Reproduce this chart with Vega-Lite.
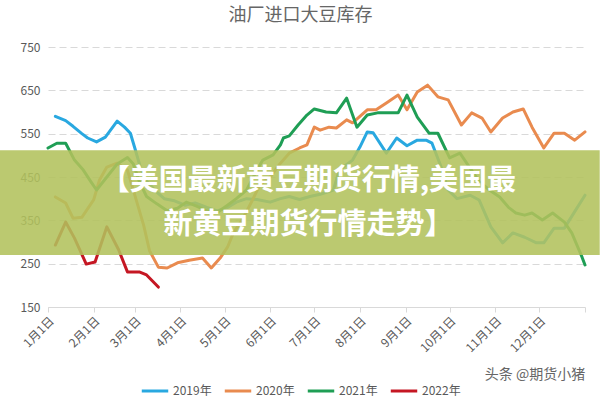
{
  "$schema": "https://vega.github.io/schema/vega-lite/v6.json",
  "autosize": "none",
  "width": 537,
  "height": 260,
  "padding": {"left": 48, "top": 47, "right": 15, "bottom": 93},
  "background": "white",
  "title": {
    "text": "油厂进口大豆库存",
    "font": "Noto Sans CJK SC",
    "fontSize": 18,
    "fontWeight": "normal",
    "color": "#666666",
    "anchor": "middle",
    "dx": -16,
    "offset": 16
  },
  "config": {
    "view": {"stroke": null},
    "font": "Noto Sans CJK SC"
  },
  "layer": [
    {
      "data": {
        "values": [
          {"year": "2019年", "day": 5, "value": 590},
          {"year": "2019年", "day": 12, "value": 580},
          {"year": "2019年", "day": 17, "value": 567},
          {"year": "2019年", "day": 23, "value": 550},
          {"year": "2019年", "day": 27, "value": 540},
          {"year": "2019年", "day": 33, "value": 531},
          {"year": "2019年", "day": 39, "value": 542},
          {"year": "2019年", "day": 47, "value": 579},
          {"year": "2019年", "day": 52, "value": 565},
          {"year": "2019年", "day": 56, "value": 551},
          {"year": "2019年", "day": 59, "value": 517},
          {"year": "2019年", "day": 63, "value": 470},
          {"year": "2019年", "day": 67, "value": 440},
          {"year": "2019年", "day": 73, "value": 418},
          {"year": "2019年", "day": 79, "value": 400},
          {"year": "2019年", "day": 86, "value": 395},
          {"year": "2019年", "day": 93, "value": 385},
          {"year": "2019年", "day": 100, "value": 390},
          {"year": "2019年", "day": 108, "value": 380},
          {"year": "2019年", "day": 115, "value": 372},
          {"year": "2019年", "day": 122, "value": 380},
          {"year": "2019年", "day": 128, "value": 392},
          {"year": "2019年", "day": 135, "value": 400},
          {"year": "2019年", "day": 142, "value": 398},
          {"year": "2019年", "day": 151, "value": 392},
          {"year": "2019年", "day": 158, "value": 400},
          {"year": "2019年", "day": 164, "value": 405},
          {"year": "2019年", "day": 171, "value": 398},
          {"year": "2019年", "day": 178, "value": 405},
          {"year": "2019年", "day": 185, "value": 410},
          {"year": "2019年", "day": 194, "value": 420},
          {"year": "2019年", "day": 198, "value": 466},
          {"year": "2019年", "day": 207, "value": 489},
          {"year": "2019年", "day": 212, "value": 519},
          {"year": "2019年", "day": 217, "value": 554},
          {"year": "2019年", "day": 221, "value": 552},
          {"year": "2019年", "day": 230, "value": 505},
          {"year": "2019年", "day": 237, "value": 540},
          {"year": "2019年", "day": 244, "value": 522},
          {"year": "2019年", "day": 251, "value": 535},
          {"year": "2019年", "day": 257, "value": 535},
          {"year": "2019年", "day": 261, "value": 528},
          {"year": "2019年", "day": 268, "value": 466},
          {"year": "2019年", "day": 272, "value": 420},
          {"year": "2019年", "day": 278, "value": 400},
          {"year": "2019年", "day": 287, "value": 408},
          {"year": "2019年", "day": 293, "value": 397},
          {"year": "2019年", "day": 301, "value": 335},
          {"year": "2019年", "day": 309, "value": 298},
          {"year": "2019年", "day": 316, "value": 321},
          {"year": "2019年", "day": 324, "value": 311},
          {"year": "2019年", "day": 332, "value": 298},
          {"year": "2019年", "day": 337, "value": 298},
          {"year": "2019年", "day": 344, "value": 332},
          {"year": "2019年", "day": 351, "value": 332},
          {"year": "2019年", "day": 358, "value": 370},
          {"year": "2019年", "day": 365, "value": 408},

          {"year": "2020年", "day": 5, "value": 404},
          {"year": "2020年", "day": 12, "value": 390},
          {"year": "2020年", "day": 17, "value": 355},
          {"year": "2020年", "day": 23, "value": 357},
          {"year": "2020年", "day": 31, "value": 397},
          {"year": "2020年", "day": 35, "value": 443},
          {"year": "2020年", "day": 40, "value": 473},
          {"year": "2020年", "day": 47, "value": 482},
          {"year": "2020年", "day": 54, "value": 466},
          {"year": "2020年", "day": 59, "value": 408},
          {"year": "2020年", "day": 65, "value": 339},
          {"year": "2020年", "day": 69, "value": 280},
          {"year": "2020年", "day": 75, "value": 242},
          {"year": "2020年", "day": 81, "value": 240},
          {"year": "2020年", "day": 88, "value": 252},
          {"year": "2020年", "day": 96, "value": 258},
          {"year": "2020年", "day": 105, "value": 263},
          {"year": "2020年", "day": 111, "value": 240},
          {"year": "2020年", "day": 117, "value": 263},
          {"year": "2020年", "day": 122, "value": 288},
          {"year": "2020年", "day": 126, "value": 321},
          {"year": "2020年", "day": 132, "value": 351},
          {"year": "2020年", "day": 139, "value": 397},
          {"year": "2020年", "day": 144, "value": 432},
          {"year": "2020年", "day": 151, "value": 450},
          {"year": "2020年", "day": 158, "value": 482},
          {"year": "2020年", "day": 164, "value": 505},
          {"year": "2020年", "day": 171, "value": 517},
          {"year": "2020年", "day": 176, "value": 524},
          {"year": "2020年", "day": 181, "value": 565},
          {"year": "2020年", "day": 185, "value": 558},
          {"year": "2020年", "day": 191, "value": 565},
          {"year": "2020年", "day": 196, "value": 563},
          {"year": "2020年", "day": 203, "value": 582},
          {"year": "2020年", "day": 207, "value": 575},
          {"year": "2020年", "day": 217, "value": 605},
          {"year": "2020年", "day": 223, "value": 605},
          {"year": "2020年", "day": 230, "value": 621},
          {"year": "2020年", "day": 238, "value": 639},
          {"year": "2020年", "day": 244, "value": 605},
          {"year": "2020年", "day": 251, "value": 646},
          {"year": "2020年", "day": 258, "value": 662},
          {"year": "2020年", "day": 265, "value": 635},
          {"year": "2020年", "day": 272, "value": 628},
          {"year": "2020年", "day": 281, "value": 570},
          {"year": "2020年", "day": 288, "value": 598},
          {"year": "2020年", "day": 295, "value": 586},
          {"year": "2020年", "day": 301, "value": 554},
          {"year": "2020年", "day": 309, "value": 586},
          {"year": "2020年", "day": 316, "value": 600},
          {"year": "2020年", "day": 323, "value": 607},
          {"year": "2020年", "day": 329, "value": 565},
          {"year": "2020年", "day": 337, "value": 517},
          {"year": "2020年", "day": 344, "value": 551},
          {"year": "2020年", "day": 351, "value": 551},
          {"year": "2020年", "day": 358, "value": 535},
          {"year": "2020年", "day": 365, "value": 554},

          {"year": "2021年", "day": 0, "value": 517},
          {"year": "2021年", "day": 6, "value": 528},
          {"year": "2021年", "day": 12, "value": 528},
          {"year": "2021年", "day": 18, "value": 489},
          {"year": "2021年", "day": 24, "value": 466},
          {"year": "2021年", "day": 29, "value": 440},
          {"year": "2021年", "day": 33, "value": 420},
          {"year": "2021年", "day": 40, "value": 450},
          {"year": "2021年", "day": 47, "value": 480},
          {"year": "2021年", "day": 54, "value": 495},
          {"year": "2021年", "day": 58, "value": 480},
          {"year": "2021年", "day": 62, "value": 440},
          {"year": "2021年", "day": 67, "value": 405},
          {"year": "2021年", "day": 74, "value": 388},
          {"year": "2021年", "day": 81, "value": 372},
          {"year": "2021年", "day": 88, "value": 378},
          {"year": "2021年", "day": 94, "value": 392},
          {"year": "2021年", "day": 101, "value": 383},
          {"year": "2021年", "day": 108, "value": 372},
          {"year": "2021年", "day": 115, "value": 368},
          {"year": "2021年", "day": 122, "value": 385},
          {"year": "2021年", "day": 128, "value": 400},
          {"year": "2021年", "day": 135, "value": 420},
          {"year": "2021年", "day": 142, "value": 466},
          {"year": "2021年", "day": 146, "value": 489},
          {"year": "2021年", "day": 153, "value": 501},
          {"year": "2021年", "day": 158, "value": 524},
          {"year": "2021年", "day": 160, "value": 540},
          {"year": "2021年", "day": 164, "value": 545},
          {"year": "2021年", "day": 170, "value": 570},
          {"year": "2021年", "day": 176, "value": 593},
          {"year": "2021年", "day": 181, "value": 607},
          {"year": "2021年", "day": 189, "value": 600},
          {"year": "2021年", "day": 196, "value": 598},
          {"year": "2021年", "day": 203, "value": 632},
          {"year": "2021年", "day": 210, "value": 565},
          {"year": "2021年", "day": 217, "value": 593},
          {"year": "2021年", "day": 224, "value": 598},
          {"year": "2021年", "day": 231, "value": 598},
          {"year": "2021年", "day": 238, "value": 598},
          {"year": "2021年", "day": 244, "value": 639},
          {"year": "2021年", "day": 251, "value": 588},
          {"year": "2021年", "day": 259, "value": 551},
          {"year": "2021年", "day": 265, "value": 551},
          {"year": "2021年", "day": 273, "value": 494},
          {"year": "2021年", "day": 280, "value": 505},
          {"year": "2021年", "day": 287, "value": 470},
          {"year": "2021年", "day": 293, "value": 440},
          {"year": "2021年", "day": 300, "value": 420},
          {"year": "2021年", "day": 307, "value": 404},
          {"year": "2021年", "day": 313, "value": 380},
          {"year": "2021年", "day": 318, "value": 367},
          {"year": "2021年", "day": 324, "value": 362},
          {"year": "2021年", "day": 329, "value": 367},
          {"year": "2021年", "day": 336, "value": 351},
          {"year": "2021年", "day": 343, "value": 367},
          {"year": "2021年", "day": 351, "value": 346},
          {"year": "2021年", "day": 356, "value": 321},
          {"year": "2021年", "day": 363, "value": 265},
          {"year": "2021年", "day": 365, "value": 247},

          {"year": "2022年", "day": 5, "value": 293},
          {"year": "2022年", "day": 12, "value": 346},
          {"year": "2022年", "day": 18, "value": 309},
          {"year": "2022年", "day": 26, "value": 249},
          {"year": "2022年", "day": 32, "value": 254},
          {"year": "2022年", "day": 40, "value": 335},
          {"year": "2022年", "day": 48, "value": 282},
          {"year": "2022年", "day": 54, "value": 231},
          {"year": "2022年", "day": 62, "value": 231},
          {"year": "2022年", "day": 67, "value": 224},
          {"year": "2022年", "day": 75, "value": 196}
        ]
      },
      "mark": {"type": "line", "strokeWidth": 3, "strokeJoin": "round", "strokeCap": "round"},
      "encoding": {
        "x": {
          "field": "day",
          "type": "quantitative",
          "scale": {"domain": [0, 365], "nice": false, "zero": false},
          "axis": {
            "title": null,
            "values": [0, 31, 59, 90, 120, 151, 181, 212, 243, 273, 304, 334, 365],
            "labelExpr": "datum.value >= 365 ? '' : (indexof([0,31,59,90,120,151,181,212,243,273,304,334], datum.value) + 1) + '月1日'",
            "labelAngle": -45,
            "labelAlign": "right",
            "labelBaseline": "top",
            "labelFontSize": 12,
            "labelColor": "#595959",
            "labelPadding": 3,
            "labelFont": "Noto Sans CJK SC",
            "grid": false,
            "domainColor": "#d9d9d9",
            "tickColor": "#d9d9d9",
            "tickSize": 5,
            "labelOverlap": false
          }
        },
        "y": {
          "field": "value",
          "type": "quantitative",
          "scale": {"domain": [150, 750], "nice": false, "zero": false},
          "axis": {
            "title": null,
            "values": [150, 250, 350, 450, 550, 650, 750],
            "domain": false,
            "ticks": false,
            "labelFontSize": 12,
            "labelColor": "#595959",
            "labelPadding": 8,
            "labelFont": "Noto Sans CJK SC",
            "gridColor": "#d9d9d9",
            "gridDash": [7, 4]
          }
        },
        "color": {
          "field": "year",
          "type": "nominal",
          "scale": {
            "domain": ["2019年", "2020年", "2021年", "2022年"],
            "range": ["#29a8e0", "#e98b4f", "#1f9e55", "#c51723"]
          },
          "legend": {
            "title": null,
            "orient": "none",
            "direction": "horizontal",
            "legendX": 92,
            "legendY": 329,
            "symbolType": "stroke",
            "symbolSize": 700,
            "symbolStrokeWidth": 3,
            "labelFontSize": 12,
            "labelColor": "#595959",
            "labelFont": "Noto Sans CJK SC",
            "labelOffset": 3,
            "columnPadding": 6
          }
        }
      }
    },
    {
      "data": {"values": [{}]},
      "mark": {"type": "rect", "color": "#b2c25c", "opacity": 0.88},
      "encoding": {
        "x": {"datum": -33, "type": "quantitative"},
        "x2": {"datum": 375},
        "y": {"datum": 512, "type": "quantitative"},
        "y2": {"datum": 270}
      }
    },
    {
      "data": {"values": [{}]},
      "mark": {
        "type": "text",
        "color": "white",
        "font": "Noto Sans CJK SC",
        "fontWeight": "bold",
        "fontSize": 29,
        "align": "center",
        "baseline": "middle"
      },
      "encoding": {
        "x": {"datum": 177, "type": "quantitative"},
        "y": {"datum": 440, "type": "quantitative"},
        "text": {"value": "【美国最新黄豆期货行情,美国最"}
      }
    },
    {
      "data": {"values": [{}]},
      "mark": {
        "type": "text",
        "color": "white",
        "font": "Noto Sans CJK SC",
        "fontWeight": "bold",
        "fontSize": 29,
        "align": "center",
        "baseline": "middle"
      },
      "encoding": {
        "x": {"datum": 177, "type": "quantitative"},
        "y": {"datum": 340, "type": "quantitative"},
        "text": {"value": "新黄豆期货行情走势】"}
      }
    },
    {
      "data": {"values": [{}]},
      "mark": {
        "type": "text",
        "color": "#666666",
        "font": "Noto Sans CJK SC",
        "fontSize": 14,
        "align": "center",
        "baseline": "middle"
      },
      "encoding": {
        "x": {"datum": 331, "type": "quantitative"},
        "y": {"datum": -7, "type": "quantitative"},
        "text": {"value": "头条 @期货小猪"}
      }
    }
  ]
}
